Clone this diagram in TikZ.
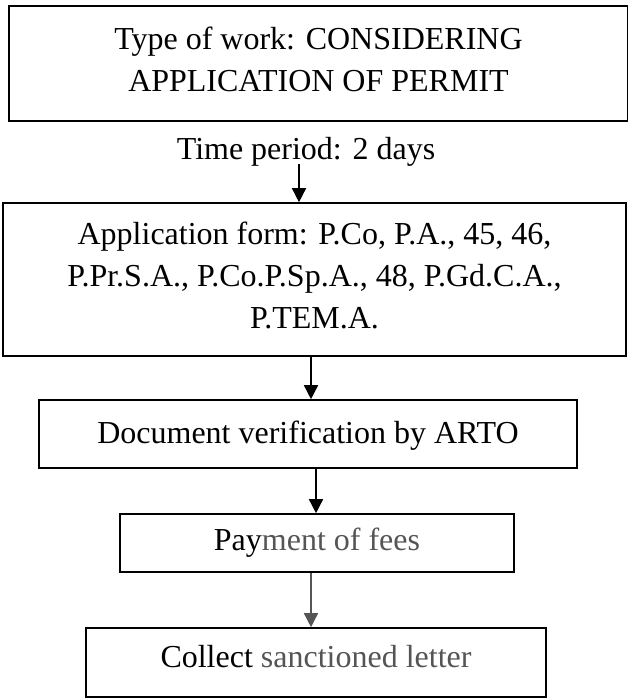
\documentclass[tikz,border=0pt]{standalone}
\usepackage{fontspec}
\setmainfont{Liberation Serif}
\usetikzlibrary{arrows.meta}
\definecolor{fade}{HTML}{555555}
\begin{document}
\begin{tikzpicture}[x=1pt,y=-1pt,
  box/.style={draw=black,line width=1.6pt,rectangle,inner sep=0pt},
  txt/.style={inner sep=0pt,align=center,font=\fontsize{32}{42}\selectfont},
  arr/.style={line width=1.5pt,-{Triangle[length=14pt,width=14pt]}}]
  \useasboundingbox (0,0) rectangle (627,698);

  % process boxes
  \node[box,line width=2pt,minimum width=619pt,minimum height=115pt] (b1) at (318.5,63.5) {};
  \node[txt] (b1t) at ([yshift=4pt]b1.center)
    {Type of work: CONSIDERING\\APPLICATION OF PERMIT};
  \node[txt,anchor=base] (tp) at (306,159) {Time period: 2 days};
  \node[box,minimum width=623pt,minimum height=153pt] (b2) at (314.5,279.5) {};
  \node[txt] (b2t) at ([yshift=4pt]b2.center)
    {Application form: P.Co, P.A., 45, 46,\\P.Pr.S.A., P.Co.P.Sp.A., 48, P.Gd.C.A.,\\P.TEM.A.};
  \node[box,minimum width=538pt,minimum height=68pt] (b3) at (308,434) {};
  \node[txt] (b3t) at ([yshift=-2pt]b3.center) {Document verification by ARTO};
  \node[box,minimum width=394pt,minimum height=58pt] (b4) at (317,543) {};
  \node[txt] (b4t) at (b4.center) {Pay\textcolor{fade}{ment of fees}};
  \node[box,minimum width=460pt,minimum height=69pt] (b5) at (316,662.5) {};
  \node[txt] (b5t) at ([yshift=6pt]b5.center) {Collect \textcolor{fade}{sanctioned letter}};

  % connectors
  \coordinate (s1) at (299,164);
  \coordinate (a2) at (311,0);
  \coordinate (a3) at (316,0);
  \coordinate (a4) at (311,0);
  \draw[arr] (s1) -- (s1 |- b2.north);
  \draw[arr] (b2.south -| a2) -- (b3.north -| a2);
  \draw[arr] (b3.south -| a3) -- (b4.north -| a3);
  \draw[arr,draw=fade,fill=fade] (b4.south -| a4) -- (b5.north -| a4);
\end{tikzpicture}
\end{document}
